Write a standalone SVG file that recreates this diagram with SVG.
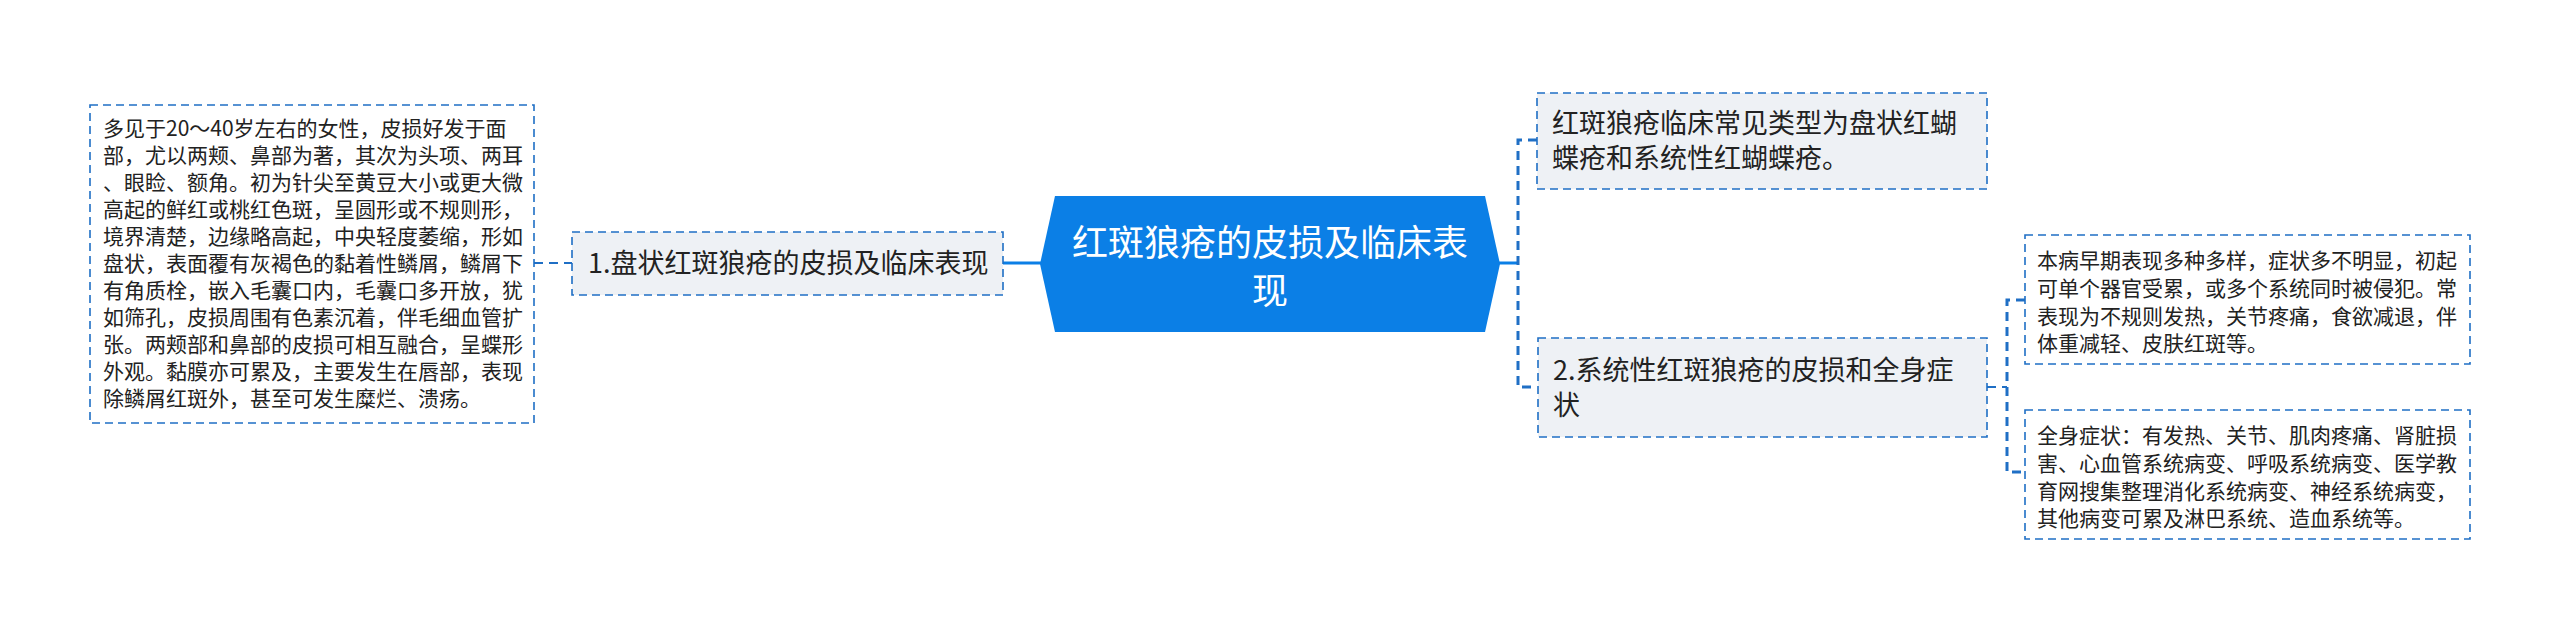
<svg xmlns="http://www.w3.org/2000/svg" width="2560" height="630" viewBox="0 0 2560 630">
<style>
.bg{fill:#ffffff}
.leaf{fill:#ffffff;stroke:#1f6fc5;stroke-width:1.6;stroke-dasharray:8 5}
.sub{fill:#eef1f5;stroke:#1f6fc5;stroke-width:1.6;stroke-dasharray:8 5}
.t{font-family:"Microsoft YaHei","Noto Sans CJK SC",sans-serif;fill:#222222}
.s21{font-size:21px}
.s27{font-size:27px}
.ctext{font-family:"Microsoft YaHei","Noto Sans CJK SC",sans-serif;font-size:36px;fill:#ffffff;text-anchor:middle}
.solid{stroke:#0b7fe6;stroke-width:3;fill:none}
.dash{stroke:#1f6fc5;stroke-width:3;fill:none;stroke-dasharray:9 6}
.dashthin{stroke:#1f6fc5;stroke-width:2;fill:none;stroke-dasharray:9 6}
</style>
<rect class="bg" x="0" y="0" width="2560" height="630"/>
<g id="connectors">
<line class="dashthin" x1="534" y1="263" x2="572" y2="263"/>
<line class="solid" x1="1003" y1="263" x2="1041" y2="263"/>
<line class="solid" x1="1499" y1="263" x2="1518" y2="263"/>
<path class="dash" d="M1537 140 H1518 V387 H1537"/>
<line class="dashthin" x1="1987" y1="387" x2="2007" y2="387"/>
<path class="dash" d="M2025 300 H2007 V472 H2025"/>
</g>
<g id="center">
<polygon points="1040,264 1055,196 1485,196 1500,264 1485,332 1055,332" fill="#0b7fe6"/>
<text class="ctext" x="1270" y="256">红斑狼疮的皮损及临床表</text>
<text class="ctext" x="1270" y="304">现</text>
</g>
<g id="node-left-detail">
<rect class="leaf" x="90" y="105" width="444" height="318"/>
<text class="t s21" x="103" y="136">多见于20～40岁左右的女性，皮损好发于面</text>
<text class="t s21" x="103" y="163">部，尤以两颊、鼻部为著，其次为头项、两耳</text>
<text class="t s21" x="103" y="190">、眼睑、额角。初为针尖至黄豆大小或更大微</text>
<text class="t s21" x="103" y="217">高起的鲜红或桃红色斑，呈圆形或不规则形，</text>
<text class="t s21" x="103" y="244">境界清楚，边缘略高起，中央轻度萎缩，形如</text>
<text class="t s21" x="103" y="271">盘状，表面覆有灰褐色的黏着性鳞屑，鳞屑下</text>
<text class="t s21" x="103" y="298">有角质栓，嵌入毛囊口内，毛囊口多开放，犹</text>
<text class="t s21" x="103" y="325">如筛孔，皮损周围有色素沉着，伴毛细血管扩</text>
<text class="t s21" x="103" y="352">张。两颊部和鼻部的皮损可相互融合，呈蝶形</text>
<text class="t s21" x="103" y="379">外观。黏膜亦可累及，主要发生在唇部，表现</text>
<text class="t s21" x="103" y="406">除鳞屑红斑外，甚至可发生糜烂、溃疡。</text>
</g>
<g id="node-1">
<rect class="sub" x="572" y="232" width="431" height="63"/>
<text class="t s27" x="588" y="273">1.盘状红斑狼疮的皮损及临床表现</text>
</g>
<g id="node-types">
<rect class="sub" x="1537" y="93" width="450" height="96"/>
<text class="t s27" x="1552" y="133">红斑狼疮临床常见类型为盘状红蝴</text>
<text class="t s27" x="1552" y="168">蝶疮和系统性红蝴蝶疮。</text>
</g>
<g id="node-2">
<rect class="sub" x="1538" y="338" width="449" height="99"/>
<text class="t s27" x="1553" y="380">2.系统性红斑狼疮的皮损和全身症</text>
<text class="t s27" x="1553" y="415">状</text>
</g>
<g id="node-early">
<rect class="leaf" x="2025" y="235" width="445" height="129"/>
<text class="t s21" x="2037" y="268">本病早期表现多种多样，症状多不明显，初起</text>
<text class="t s21" x="2037" y="296">可单个器官受累，或多个系统同时被侵犯。常</text>
<text class="t s21" x="2037" y="324">表现为不规则发热，关节疼痛，食欲减退，伴</text>
<text class="t s21" x="2037" y="351">体重减轻、皮肤红斑等。</text>
</g>
<g id="node-systemic">
<rect class="leaf" x="2025" y="410" width="445" height="129"/>
<text class="t s21" x="2037" y="443">全身症状：有发热、关节、肌肉疼痛、肾脏损</text>
<text class="t s21" x="2037" y="471">害、心血管系统病变、呼吸系统病变、医学教</text>
<text class="t s21" x="2037" y="499">育网搜集整理消化系统病变、神经系统病变，</text>
<text class="t s21" x="2037" y="526">其他病变可累及淋巴系统、造血系统等。</text>
</g>
</svg>
